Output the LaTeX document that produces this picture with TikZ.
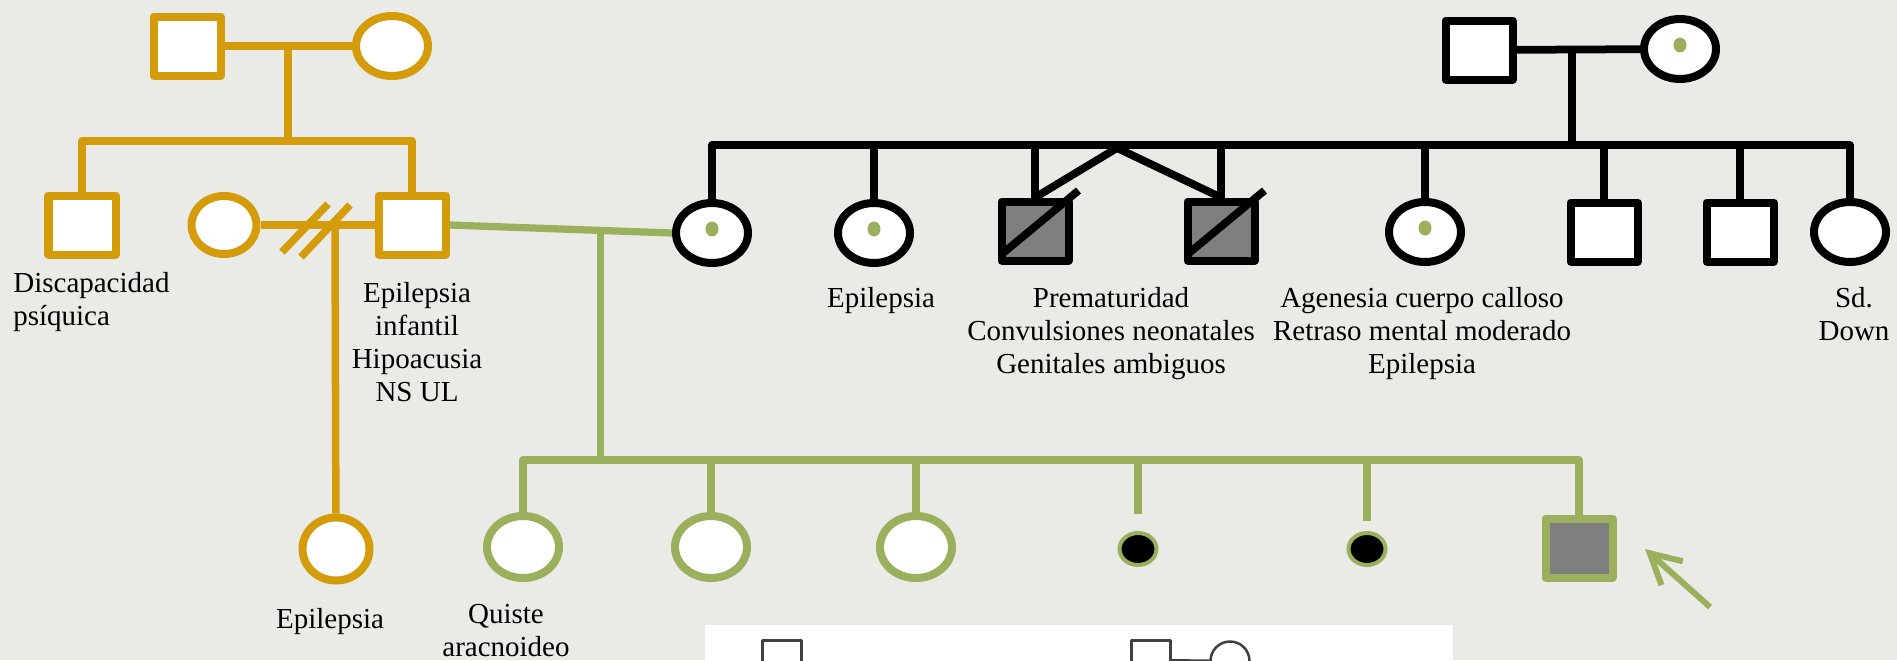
\documentclass[tikz,border=0pt]{standalone}
\usepackage{fontspec}
\setmainfont{Liberation Serif}
\usetikzlibrary{shapes.geometric,arrows.meta,calc}
\definecolor{ochre}{RGB}{212,155,10}
\definecolor{leaf}{RGB}{155,176,93}
\definecolor{paper}{RGB}{234,234,230}
\definecolor{affected}{RGB}{127,127,127}
\begin{document}
\begin{tikzpicture}
      [
      x=0.2mm,y=-0.2mm,line join=round,
      male/.style={rectangle,draw,fill=white,line width=1.6mm,inner sep=0pt,minimum width=13.4mm,minimum height=11.8mm},
      female/.style={ellipse,draw,fill=white,line width=1.6mm,inner sep=0pt,minimum width=14.4mm,minimum height=12mm},
      carrier/.style={path picture={\fill[leaf] ([yshift=0.8mm]path picture bounding box.center) ellipse [x radius=1.3mm,y radius=1.5mm];}},
      loss/.style={ellipse,draw=leaf,fill=black,line width=0.8mm,inner sep=0pt,minimum width=7.4mm,minimum height=6.4mm},
      key/.style={draw=black!75,fill=white,line width=0.5mm,inner sep=0pt,minimum size=7.8mm},
      ochreline/.style={draw=ochre,line width=1.5mm},
      leafline/.style={draw=leaf,line width=1.45mm},
      blackline/.style={draw=black,line width=1.55mm},
      note/.style={font=\fontsize{16.5}{18.8}\selectfont,align=center,inner sep=0pt,anchor=north}
      ]
      \useasboundingbox (0,0) rectangle (1897,660);
      \clip (0,0) rectangle (1897,660);
      \fill[paper] (0,0) rectangle (1897,660);

      \node (gfA) at (187,46) [male,draw=ochre] {};
      \node (gmA) at (392,46) [female,draw=ochre] {};
      \coordinate (mA) at (288,46);
      \coordinate (sA) at (288,141);
      \node (uncleA) at (82,225) [male,draw=ochre] {};
      \node (exwife) at (224,225) [female,draw=ochre,minimum width=13mm,minimum height=11.6mm] {};
      \node (father) at (412,225) [male,draw=ochre] {};
      \coordinate (dv) at (316,225);
      \coordinate (cA) at (335,225);
      \node (halfsis) at (336,549) [female,draw=ochre,minimum width=13.4mm,minimum height=12.6mm] {};
      \draw [ochreline] (gfA) -- (gmA);
      \draw [ochreline] (mA) -- (sA);
      \draw [ochreline] (uncleA.north) -- (uncleA |- sA) -- (father |- sA) -- (father.north);
      \draw [ochreline] (exwife) -- (father);
      \draw [ochreline] ($(dv)+(-34,27)$) -- ++(46,-48);
      \draw [ochreline] ($(dv)+(-15,32)$) -- ++(49,-52);
      \draw [ochreline] (cA) -- (halfsis);

      \node (gfB) at (1479,50) [male] {};
      \node (gmB) at (1680,49) [female,carrier] {};
      \coordinate (mB) at (1572,50);
      \coordinate (sC) at (1572,145);
      \node (mother) at (712,233) [female,carrier] {};
      \node (aunt1) at (874,233) [female,carrier] {};
      \node (twin1) at (1035,231) [male,fill=affected] {};
      \node (twin2) at (1221,231) [male,fill=affected] {};
      \node (aunt2) at (1425,232) [female,carrier] {};
      \node (uncle1) at (1604,232) [male] {};
      \node (uncle2) at (1740,232) [male] {};
      \node (aunt3) at (1850,232) [female] {};
      \coordinate (tw) at (1117,148);
      \draw [blackline] (gfB) -- (gmB);
      \draw [blackline] (mB) -- (sC);
      \draw [blackline] (mother.north) -- (mother |- sC) -- (aunt3 |- sC) -- (aunt3.north);
      \foreach \c in {aunt1,twin1,twin2,aunt2,uncle1,uncle2}
        \draw [blackline] (\c |- sC) -- (\c.north);
      \draw [blackline] (tw) -- (twin1.north);
      \draw [blackline] (tw) -- (twin2.north);
      \foreach \c in {twin1,twin2}
        \draw [blackline] ([shift={(5,-11)}]\c.south west) -- ([shift={(6,-7)}]\c.north east);

      \coordinate (gC) at ($(father.east)!0.68!(mother.west)$);
      \coordinate (sB) at (600,460);
      \node (c1) at (523,547) [female,draw=leaf,minimum width=14.4mm,minimum height=12.4mm] {};
      \node (c2) at (711,547) [female,draw=leaf,minimum width=14.4mm,minimum height=12.4mm] {};
      \node (c3) at (916,547) [female,draw=leaf,minimum width=14.4mm,minimum height=12.4mm] {};
      \node (c4) at (1138,549) [loss] {};
      \node (c5) at (1367,549) [loss] {};
      \node (proband) at (1579,548) [male,draw=leaf,fill=affected] {};
      \coordinate (arrtail) at (1710,607);
      \coordinate (arrtip) at (1645,549);
      \draw [leafline] (father.east) -- (mother.west);
      \draw [leafline] (gC) -- (gC |- sB);
      \draw [leafline] (c1.north) -- (c1 |- sB) -- (proband |- sB) -- (proband.north);
      \foreach \c in {c2,c3}
        \draw [leafline] (\c |- sB) -- (\c.north);
      \draw [leafline,shorten >=3.4mm] (c4 |- sB) -- (c4.north);
      \draw [leafline,shorten >=2mm] (c5 |- sB) -- (c5.north);
      \draw [leafline,line width=1.2mm,-{Straight Barb[length=6mm,width=6.4mm]}] (arrtail) -- (arrtip);

      \node (txtA1) at (13,272) [note,anchor=north west,align=left] {Discapacidad\\psíquica};
      \node (txtA2) at (417,282) [note] {Epilepsia\\infantil\\Hipoacusia\\NS UL};
      \node (txtA3) at (330,608) [note] {Epilepsia};
      \node (txtB1) at (506,604) [note] {Quiste\\aracnoideo};
      \node (txtC1) at (881,287) [note] {Epilepsia};
      \node (txtC2) at (1111,287) [note] {Prematuridad\\Convulsiones neonatales\\Genitales ambiguos};
      \node (txtC3) at (1422,287) [note] {Agenesia cuerpo calloso\\Retraso mental moderado\\Epilepsia};
      \node (txtC4) at (1854,287) [note] {Sd.\\Down};

      \fill[white] (705,625) rectangle (1453,700);
      \node (keyM) at (782,660) [key,rectangle] {};
      \node (keyCm) at (1151,660) [key,rectangle] {};
      \node (keyCf) at (1230,661) [key,circle] {};
      \draw [black!75,line width=0.5mm] (keyCm) -- (keyCf);
    \end{tikzpicture}
\end{document}
